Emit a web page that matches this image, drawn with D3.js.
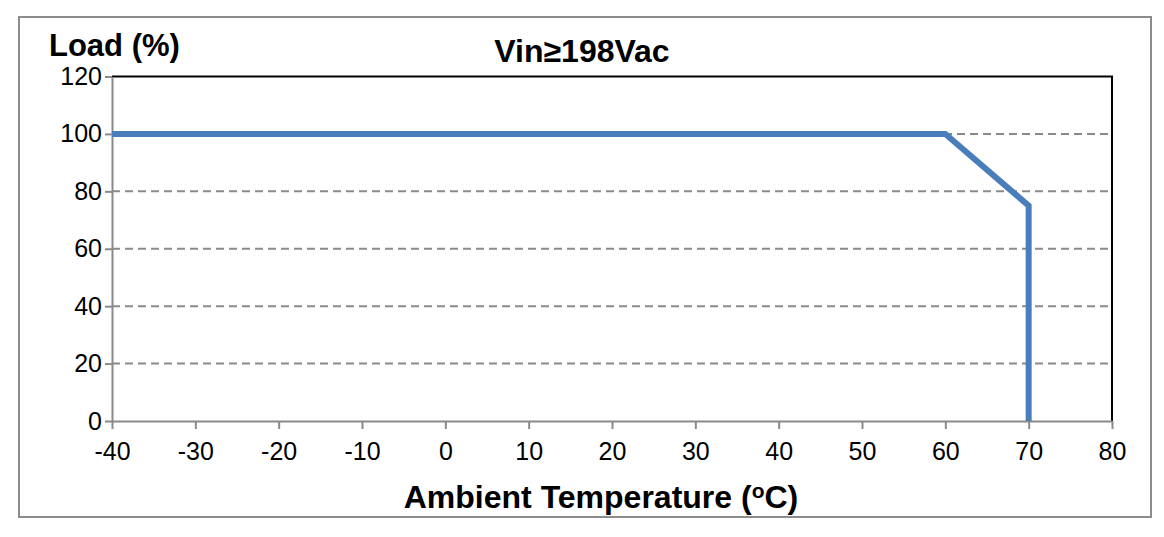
<!DOCTYPE html>
<html>
<head>
<meta charset="utf-8">
<script src="https://cdn.jsdelivr.net/npm/d3@7"></script>
<style>
  body { margin: 0; background: #fff; }
  svg { font-family: "Liberation Sans", Arial, sans-serif; }
</style>
</head>
<body>
<div id="chart"></div>
<script>
/* DATA */
const temps = [-40, 60, 70, 70];
const loads = [100, 100, 75, 0];
const xTicks = [-40, -30, -20, -10, 0, 10, 20, 30, 40, 50, 60, 70, 80];
const yTicks = [0, 20, 40, 60, 80, 100, 120];
const gridTicks = [20, 40, 60, 80, 100];

/* SIZES */
const width = 1164,
  height = 537,
  margin = { top: 76.5, bottom: 116, left: 112, right: 52 };

const svg = d3.select("#chart")
  .append("svg")
  .attr("width", width)
  .attr("height", height);

// outer frame
svg.append("rect")
  .attr("x", 19).attr("y", 17)
  .attr("width", 1132).attr("height", 500)
  .attr("fill", "none")
  .attr("stroke", "#8c8c8c")
  .attr("stroke-width", 2);

const xScale = d3.scaleLinear()
  .domain([-40, 80])
  .range([margin.left, width - margin.right]);

const yScale = d3.scaleLinear()
  .domain([0, 120])
  .range([height - margin.bottom, margin.top]);

// dashed gridlines
svg.append("g")
  .selectAll("line")
  .data(gridTicks)
  .join("line")
  .attr("x1", xScale(-40))
  .attr("x2", xScale(80))
  .attr("y1", d => yScale(d))
  .attr("y2", d => yScale(d))
  .attr("stroke", "#8a8a8a")
  .attr("stroke-width", 2)
  .attr("stroke-dasharray", "8,5");

// top and right black frame
svg.append("path")
  .attr("d", `M${xScale(-40)},${yScale(120)}H${xScale(80)}V${yScale(0)}`)
  .attr("fill", "none")
  .attr("stroke", "#000")
  .attr("stroke-width", 2);

// axes - plain hyphen for negatives like the original
const xAxis = d3.axisBottom(xScale).tickValues(xTicks).tickFormat(d => String(d))
  .tickSizeInner(8).tickSizeOuter(0).tickPadding(13);
const yAxis = d3.axisLeft(yScale).tickValues(yTicks).tickFormat(d => String(d))
  .tickSizeInner(7).tickSizeOuter(0).tickPadding(3);

const gx = svg.append("g")
  .attr("transform", `translate(0,${yScale(0)})`)
  .call(xAxis);
const gy = svg.append("g")
  .attr("transform", `translate(${xScale(-40)},0)`)
  .call(yAxis);

[gx, gy].forEach(g => {
  g.select(".domain").attr("stroke", "#8a8a8a").attr("stroke-width", 2);
  g.selectAll(".tick line").attr("stroke", "#8a8a8a").attr("stroke-width", 2);
  g.selectAll("text")
    .attr("fill", "#000")
    .style("font-size", "25px")
    .style("font-family", "'Liberation Sans', Arial, sans-serif");
});

// derating curve
const line = d3.line()
  .x((d, i) => xScale(temps[i]))
  .y(d => yScale(d));

svg.append("path")
  .datum(loads)
  .attr("d", line)
  .attr("fill", "none")
  .attr("stroke", "#4a7ebb")
  .attr("stroke-width", 6)
  .attr("stroke-linejoin", "miter");

// texts
svg.append("text")
  .attr("x", 49).attr("y", 56)
  .style("font-size", "31px")
  .style("font-weight", "bold")
  .text("Load (%)");

svg.append("text")
  .attr("x", 582).attr("y", 62)
  .attr("text-anchor", "middle")
  .style("font-size", "32px")
  .style("font-weight", "bold")
  .text("Vin≥198Vac");

const xt = svg.append("text")
  .attr("x", 601).attr("y", 508)
  .attr("text-anchor", "middle")
  .style("font-size", "32px")
  .style("font-weight", "bold");
xt.append("tspan").text("Ambient Temperature (");
xt.append("tspan").attr("dy", -10).style("font-size", "21px").text("o");
xt.append("tspan").attr("dy", 10).text("C)");
</script>
</body>
</html>
